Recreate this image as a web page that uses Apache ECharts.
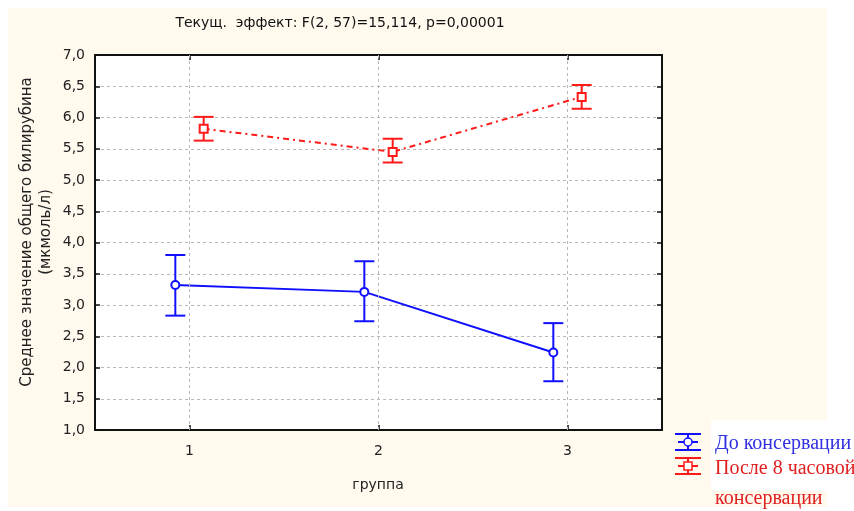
<!DOCTYPE html>
<html>
<head>
<meta charset="utf-8">
<script src="https://cdn.jsdelivr.net/npm/echarts@6/dist/echarts.min.js"></script>
<style>
  html, body { margin: 0; padding: 0; background: #ffffff; }
  #chart { width: 854px; height: 511px; }
</style>
</head>
<body>
<div id="chart"></div>
<script>
// Groups on the horizontal axis
const groups = [1, 2, 3];
const groupLabels = ['1', '2', '3'];

// Mean total bilirubin with confidence limits, before preservation
const beforeMean  = [3.32, 3.21, 2.24];
const beforeLower = [2.83, 2.74, 1.78];
const beforeUpper = [3.80, 3.70, 2.71];

// After 8-hour preservation
const afterMean  = [5.82, 5.45, 6.33];
const afterLower = [5.63, 5.28, 6.14];
const afterUpper = [6.01, 5.66, 6.52];

// Y axis ticks
const yMin = 1.0, yMax = 7.0, yStep = 0.5;

const seriesNames = ['До консервации', 'После 8 часовой консервации'];
const titleText = 'Текущ.  эффект: F(2, 57)=15,114, p=0,00001';
const yName1 = 'Среднее значение общего билирубина';
const yName2 = '(мкмоль/л)';
const xName = 'группа';

const BLUE = '#1010ff';
const RED = '#ff1a1a';
const SHIFT = 0.075; // horizontal dodge of the two series within a group

function pts(means, dx) {
  return groups.map((g, i) => [g + dx, means[i]]);
}
function bars(lower, upper, dx) {
  return groups.map((g, i) => [g + dx, lower[i], upper[i]]);
}
function errorBar(color) {
  return function (params, api) {
    const x = api.value(0);
    const lo = api.coord([x, api.value(1)]);
    const hi = api.coord([x, api.value(2)]);
    const half = 10;
    const style = { stroke: color, lineWidth: 2 };
    return {
      type: 'group',
      children: [
        { type: 'line', shape: { x1: lo[0], y1: lo[1], x2: hi[0], y2: hi[1] }, style },
        { type: 'line', shape: { x1: hi[0] - half, y1: hi[1], x2: hi[0] + half, y2: hi[1] }, style },
        { type: 'line', shape: { x1: lo[0] - half, y1: lo[1], x2: lo[0] + half, y2: lo[1] }, style }
      ]
    };
  };
}

const fmt = v => v.toFixed(1).replace('.', ',');
const gridStyle = { color: '#b8b8b8', type: [3, 3], width: 1 };
const frame = { show: true, onZero: false, lineStyle: { color: '#111', width: 2 } };
const innerTick = { show: true, inside: true, length: 5, lineStyle: { color: '#111', width: 1.5 } };

const chart = echarts.init(document.getElementById('chart'), null, { renderer: 'canvas' });

// Legend glyph: small error-bar icon with its marker
function legendGlyph(cx, cy, color, square) {
  const s = { stroke: color, lineWidth: 2, fill: null };
  const marker = square
    ? { type: 'rect', shape: { x: cx - 4, y: cy - 4, width: 8, height: 8 }, style: { stroke: color, lineWidth: 1.5, fill: '#fff' } }
    : { type: 'circle', shape: { cx: cx, cy: cy, r: 4 }, style: { stroke: color, lineWidth: 1.5, fill: '#fff' } };
  return [
    { type: 'line', shape: { x1: cx - 13, y1: cy - 8, x2: cx + 13, y2: cy - 8 }, style: s },
    { type: 'line', shape: { x1: cx - 13, y1: cy + 8, x2: cx + 13, y2: cy + 8 }, style: s },
    { type: 'line', shape: { x1: cx, y1: cy - 8, x2: cx, y2: cy + 8 }, style: s },
    { type: 'line', shape: { x1: cx - 10, y1: cy, x2: cx + 10, y2: cy }, style: s },
    marker
  ];
}

const option = {
  backgroundColor: '#ffffff',
  animation: false,
  grid: { left: 95, right: 192, top: 55, bottom: 81, show: true, backgroundColor: '#ffffff', borderWidth: 0 },
  xAxis: [
    {
      type: 'category', data: groupLabels, position: 'bottom', boundaryGap: true,
      axisLine: frame,
      axisTick: Object.assign({ alignWithLabel: true }, innerTick),
      axisLabel: { color: '#222', fontFamily: 'DejaVu Sans', fontSize: 14, margin: 14 },
      splitLine: { show: false }
    },
    {
      type: 'value', min: 0.5, max: 3.5, show: false
    },
    {
      type: 'category', data: groupLabels, position: 'top', boundaryGap: true,
      axisLine: frame,
      axisTick: Object.assign({ alignWithLabel: true }, innerTick),
      axisLabel: { show: false }, splitLine: { show: false }
    }
  ],
  yAxis: [
    {
      type: 'value', min: yMin, max: yMax, interval: yStep, position: 'left',
      axisLine: frame, axisTick: innerTick,
      axisLabel: { color: '#222', fontFamily: 'DejaVu Sans', fontSize: 14, margin: 10, formatter: fmt },
      splitLine: { show: true, lineStyle: gridStyle }
    },
    {
      type: 'value', min: yMin, max: yMax, interval: yStep, position: 'right',
      axisLine: frame, axisTick: innerTick,
      axisLabel: { show: false }, splitLine: { show: false }
    }
  ],
  series: [
    {
      // vertical grid lines through each group
      name: 'группы', type: 'line', xAxisIndex: 1, yAxisIndex: 0, data: [], z: 1, silent: true,
      markLine: {
        silent: true, symbol: 'none', label: { show: false },
        lineStyle: gridStyle,
        emphasis: { disabled: true },
        data: groups.map(g => ({ xAxis: g }))
      }
    },
    {
      name: seriesNames[0] + ' ДИ', type: 'custom', xAxisIndex: 1, yAxisIndex: 0,
      renderItem: errorBar(BLUE), data: bars(beforeLower, beforeUpper, -SHIFT), z: 2
    },
    {
      name: seriesNames[1] + ' ДИ', type: 'custom', xAxisIndex: 1, yAxisIndex: 0,
      renderItem: errorBar(RED), data: bars(afterLower, afterUpper, SHIFT), z: 2
    },
    {
      name: seriesNames[0], type: 'line', xAxisIndex: 1, yAxisIndex: 0,
      data: pts(beforeMean, -SHIFT), z: 3,
      lineStyle: { color: BLUE, width: 2 },
      symbol: 'circle', symbolSize: 8, showAllSymbol: true,
      itemStyle: { color: '#ffffff', borderColor: BLUE, borderWidth: 2 }
    },
    {
      name: seriesNames[1], type: 'line', xAxisIndex: 1, yAxisIndex: 0,
      data: pts(afterMean, SHIFT), z: 3,
      lineStyle: { color: RED, width: 2, type: [6, 4, 2, 4] },
      symbol: 'rect', symbolSize: 8, showAllSymbol: true,
      itemStyle: { color: '#ffffff', borderColor: RED, borderWidth: 2 }
    }
  ],
  graphic: [
    { type: 'rect', z: -10, silent: true, shape: { x: 8, y: 8, width: 819, height: 499 }, style: { fill: '#fff9ee' } },
    { type: 'rect', z: -9, silent: true, shape: { x: 711, y: 420, width: 143, height: 70 }, style: { fill: '#ffffff' } },
    {
      type: 'text', x: 340, y: 23, z: 10,
      style: { text: titleText, fill: '#111', font: '14px "DejaVu Sans"', textAlign: 'center', textVerticalAlign: 'middle' }
    },
    {
      type: 'text', x: 27, y: 232, rotation: Math.PI / 2, z: 10,
      style: { text: yName1, fill: '#222', font: '15px "DejaVu Sans"', textAlign: 'center', textVerticalAlign: 'middle' }
    },
    {
      type: 'text', x: 46, y: 232, rotation: Math.PI / 2, z: 10,
      style: { text: yName2, fill: '#222', font: '15px "DejaVu Sans"', textAlign: 'center', textVerticalAlign: 'middle' }
    },
    {
      type: 'text', x: 378, y: 485, z: 10,
      style: { text: xName, fill: '#222', font: '14px "DejaVu Sans"', textAlign: 'center', textVerticalAlign: 'middle' }
    },
    { type: 'group', z: 10, children: legendGlyph(688, 442, BLUE, false) },
    { type: 'group', z: 10, children: legendGlyph(688, 466, RED, true) },
    {
      type: 'text', x: 715, y: 444, z: 10,
      style: { text: 'До консервации', fill: '#3030e0', font: '20px "Liberation Serif"', textAlign: 'left', textVerticalAlign: 'middle' }
    },
    {
      type: 'text', x: 715, y: 469, z: 10,
      style: { text: 'После 8 часовой', fill: '#e02020', font: '20px "Liberation Serif"', textAlign: 'left', textVerticalAlign: 'middle' }
    },
    {
      type: 'text', x: 715, y: 499, z: 10,
      style: { text: 'консервации', fill: '#e02020', font: '20px "Liberation Serif"', textAlign: 'left', textVerticalAlign: 'middle' }
    }
  ]
};

chart.setOption(option);
</script>
</body>
</html>
